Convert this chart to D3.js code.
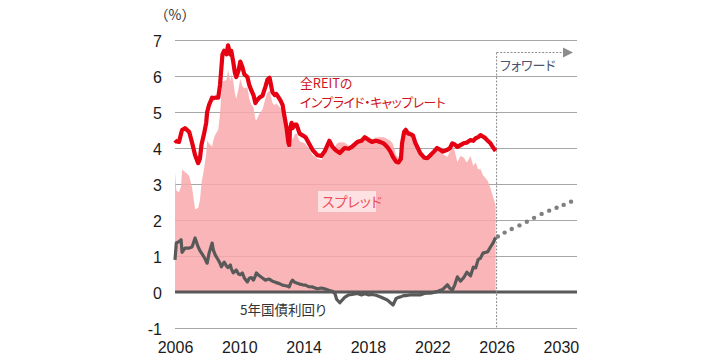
<!DOCTYPE html>
<html><head><meta charset="utf-8">
<script src="https://cdn.jsdelivr.net/npm/d3@7/dist/d3.min.js"></script>
<style>
body{margin:0;background:#fff;}
svg{display:block;}
</style></head><body>
<svg id="chart" width="720" height="360"></svg>
<script>
// ---- data ----
const dates = [2006.00,2006.08,2006.25,2006.38,2006.44,2006.62,2006.88,2007.06,2007.25,2007.44,2007.55,2007.65,2007.81,2007.94,
2008.00,2008.12,2008.31,2008.38,2008.50,2008.69,2008.80,2008.88,2008.95,2009.06,2009.20,2009.30,2009.44,2009.50,2009.62,2009.72,2009.81,2009.95,
2010.06,2010.19,2010.31,2010.50,2010.62,2010.75,2010.88,2011.00,2011.06,2011.25,2011.44,2011.62,2011.75,2011.88,2011.95,
2012.06,2012.20,2012.30,2012.45,2012.55,2012.69,2012.80,2012.94,2013.05,2013.10,2013.15,2013.25,2013.31,2013.45,2013.56,2013.75,2013.94,
2014.12,2014.30,2014.55,2014.85,2015.10,2015.30,2015.60,2015.80,2015.95,2016.05,2016.25,2016.55,2016.80,2017.00,2017.35,2017.60,2017.80,
2018.05,2018.25,2018.50,2018.75,2019.00,2019.20,2019.40,2019.56,2019.75,2019.90,2020.05,2020.12,2020.25,2020.35,2020.50,2020.65,2020.80,2020.94,
2021.10,2021.25,2021.50,2021.70,2021.88,2022.10,2022.30,2022.50,2022.65,2022.94,2023.10,2023.25,2023.40,2023.56,2023.75,2023.94,
2024.15,2024.38,2024.55,2024.70,2024.85,2025.00,2025.15,2025.31,2025.45,2025.62,2025.80,2025.94];

const capRate = [4.22,4.18,4.17,4.40,4.50,4.55,4.45,4.15,3.80,3.58,3.70,4.10,4.40,4.70,
5.00,5.20,5.40,5.38,5.40,5.40,5.75,6.20,6.60,6.70,6.60,6.85,6.60,6.70,6.40,6.10,5.97,6.15,
6.40,6.25,6.05,5.97,5.75,5.60,5.47,5.25,5.30,5.40,5.45,5.70,5.90,5.95,5.80,
5.55,5.47,5.50,5.40,5.33,5.20,4.90,4.55,4.15,4.08,4.50,4.70,4.55,4.65,4.65,4.40,4.35,
4.30,4.15,3.95,3.80,3.78,3.90,4.20,4.03,3.96,3.92,3.86,4.00,3.98,4.03,4.17,4.20,4.30,
4.22,4.17,4.20,4.17,4.12,4.03,3.90,3.75,3.62,3.60,3.70,4.13,4.45,4.50,4.40,4.38,4.35,4.15,
4.00,3.86,3.73,3.72,3.80,3.90,4.00,3.95,3.90,3.95,4.00,4.13,4.10,4.03,4.08,4.13,
4.15,4.22,4.20,4.27,4.30,4.36,4.32,4.27,4.20,4.13,4.00,3.92];

const jgb5y = [0.89,1.36,1.40,1.45,1.10,1.22,1.22,1.25,1.50,1.25,1.15,1.08,0.97,0.85,
0.80,1.08,1.36,1.17,1.03,0.89,0.80,0.70,0.75,0.83,0.72,0.68,0.75,0.65,0.53,0.57,0.61,0.50,
0.48,0.53,0.39,0.28,0.38,0.40,0.33,0.45,0.53,0.45,0.39,0.33,0.35,0.36,0.33,
0.30,0.28,0.26,0.24,0.22,0.19,0.18,0.17,0.15,0.14,0.20,0.30,0.33,0.27,0.25,0.22,0.20,
0.19,0.15,0.14,0.09,0.11,0.09,0.04,0.02,-0.05,-0.20,-0.30,-0.15,-0.08,-0.07,-0.04,-0.08,-0.05,
-0.08,-0.07,-0.09,-0.13,-0.18,-0.22,-0.30,-0.36,-0.18,-0.15,-0.13,-0.12,-0.10,-0.10,-0.09,-0.08,-0.08,-0.08,
-0.08,-0.08,-0.04,-0.03,-0.03,-0.01,0.01,0.05,0.07,0.20,0.10,0.05,0.20,0.42,0.30,0.39,
0.55,0.45,0.69,0.67,0.90,0.94,1.08,1.10,1.12,1.25,1.38,1.52];

const forwardDates = [2026.08,2026.50,2026.94,2027.42,2027.88,2028.33,2028.80,2029.27,2029.73,2030.17,2030.63];
const forwardYield = [1.54,1.65,1.75,1.85,1.95,2.06,2.17,2.26,2.34,2.42,2.51];

const xTickValues = [2006,2010,2014,2018,2022,2026,2030];
const yTickValues = [-1,0,1,2,3,4,5,6,7];
const forwardStart = 2026;

const labels = {
  unit: "（%）",
  capLine1: "全REITの",
  capLine2: "インプライド・キャップレート",
  spread: "スプレッド",
  yield: "5年国債利回り",
  forward: "フォワード"
};

// ---- drawing ----
const svg = d3.select("#chart");
const x = d3.scaleLinear().domain([2006, 2031]).range([175, 577]);
const y = d3.scaleLinear().domain([-1, 7]).range([328, 40]);

const latin = '"Liberation Sans", Arial, sans-serif';
const jp = '"Noto Sans CJK JP", "Noto Sans", sans-serif';

// gridlines
const grid = svg.append("g").attr("transform", `translate(${x.range()[0]},0)`)
  .call(d3.axisLeft(y).tickValues(yTickValues.filter(v => v !== 0))
    .tickSize(-(x.range()[1] - x.range()[0])).tickFormat(""));
grid.select(".domain").remove();
grid.selectAll(".tick line").attr("stroke", "#a6a6a6").attr("stroke-width", 1);

// spread area (cap rate minus 5y yield), from 0
const rows = dates.map((d, i) => ({d, cap: capRate[i], jgb: jgb5y[i], spread: capRate[i] - jgb5y[i]}));
svg.append("path").datum(rows)
  .attr("d", d3.area().x(r => x(r.d)).y0(y(0)).y1(r => y(r.spread)))
  .attr("fill", "#f9a8ac").attr("fill-opacity", 0.85);

// zero line
svg.append("line").attr("x1", x.range()[0]).attr("x2", x.range()[1])
  .attr("y1", y(0)).attr("y2", y(0)).attr("stroke", "#595959").attr("stroke-width", 3);

// forward vertical dashed line + arrow
const fy = 52.5;
svg.append("line").attr("x1", x(forwardStart)).attr("x2", x(forwardStart))
  .attr("y1", fy).attr("y2", y(-1)).attr("stroke", "#8c8c8c").attr("stroke-width", 1)
  .attr("stroke-dasharray", "2,1.5");
svg.append("line").attr("x1", x(forwardStart)).attr("x2", 564)
  .attr("y1", fy).attr("y2", fy).attr("stroke", "#8c8c8c").attr("stroke-width", 1)
  .attr("stroke-dasharray", "2,1.5");
svg.append("path").attr("d", `M563,${fy-5}L573,${fy}L563,${fy+5}Z`).attr("fill", "#8c8c8c");

// yield line
svg.append("path").datum(rows)
  .attr("d", d3.line().x(r => x(r.d)).y(r => y(r.jgb)))
  .attr("fill", "none").attr("stroke", "#595959").attr("stroke-width", 3.2).attr("stroke-linejoin", "round");

// forward dots
svg.append("g").selectAll("circle").data(forwardDates.map((d, i) => ({d, v: forwardYield[i]})))
  .join("circle").attr("cx", r => x(r.d)).attr("cy", r => y(r.v)).attr("r", 2.2).attr("fill", "#7f7f7f");

// cap rate line
svg.append("path").datum(rows)
  .attr("d", d3.line().x(r => x(r.d)).y(r => y(r.cap)))
  .attr("fill", "none").attr("stroke", "#e50012").attr("stroke-width", 4.2).attr("stroke-linejoin", "round");

// axes labels
const xa = svg.append("g").attr("transform", `translate(0,${y(-1)})`)
  .call(d3.axisBottom(x).tickValues(xTickValues).tickFormat(d => String(d)).tickSize(0).tickPadding(14));
xa.select(".domain").remove();
xa.selectAll("text").attr("font-family", latin).attr("font-size", 16).attr("fill", "#1a1a1a");

const ya = svg.append("g").attr("transform", `translate(162,0)`)
  .call(d3.axisLeft(y).tickValues(yTickValues).tickFormat(d => String(d)).tickSize(0).tickPadding(0));
ya.select(".domain").remove();
ya.selectAll("text").attr("font-family", latin).attr("font-size", 16).attr("fill", "#1a1a1a").attr("dy", "0.4em");

// texts
svg.append("text").attr("x", 175).attr("y", 20).attr("text-anchor", "middle")
  .attr("font-family", jp).attr("font-size", 14).attr("fill", "#333").text(labels.unit);

svg.append("text").attr("x", 300).attr("y", 87.5).attr("font-family", jp).attr("font-size", 12.8)
  .attr("fill", "#d0121b").style("font-feature-settings", "'palt'").text(labels.capLine1);
svg.append("text").attr("x", 300).attr("y", 106.5).attr("font-family", jp).attr("font-size", 12.8)
  .attr("fill", "#d0121b").attr("letter-spacing", -0.4).style("font-feature-settings", "'palt'").text(labels.capLine2);

svg.append("rect").attr("x", 318).attr("y", 191).attr("width", 58).attr("height", 21)
  .attr("fill", "#ffffff").attr("fill-opacity", 0.6);
svg.append("text").attr("x", 322).attr("y", 207).attr("font-family", jp).attr("font-size", 14)
  .attr("fill", "#f0505a").style("font-feature-settings", "'palt'").text(labels.spread);

svg.append("text").attr("x", 240).attr("y", 315).attr("font-family", jp).attr("font-size", 13.5)
  .attr("fill", "#333").style("font-feature-settings", "'palt'").text(labels.yield);

svg.append("text").attr("x", 500).attr("y", 70).attr("font-family", jp).attr("font-size", 13)
  .attr("fill", "#4a5470").style("font-feature-settings", "'palt'").text(labels.forward);
</script>
</body></html>
